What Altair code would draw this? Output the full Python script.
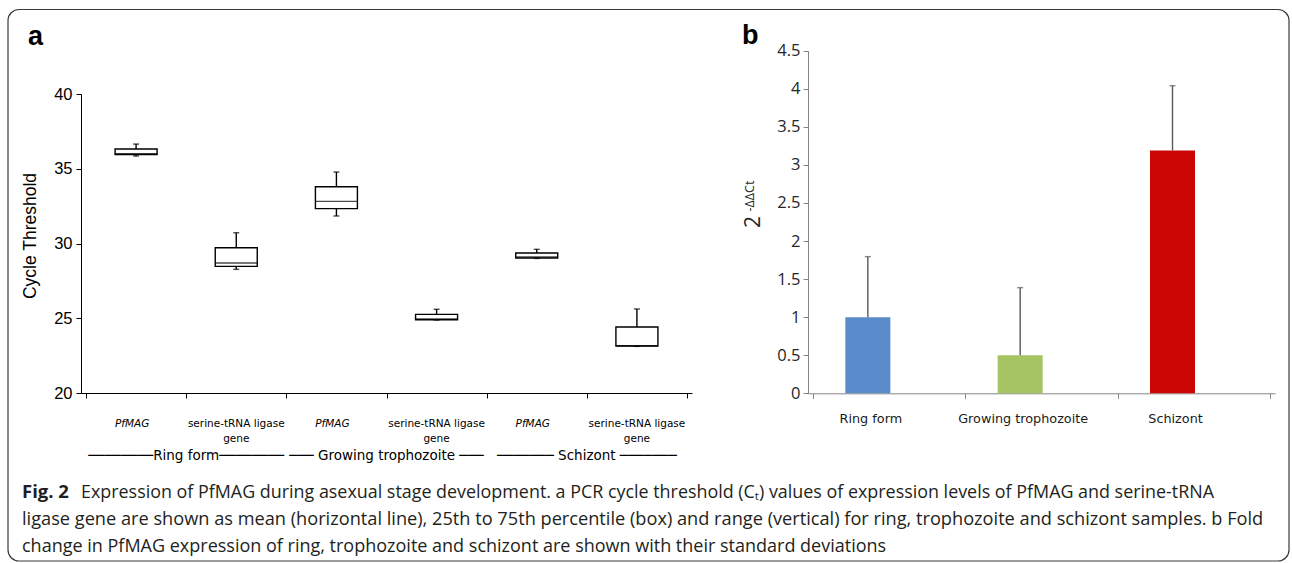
import altair as alt
import pandas as pd

# ---------------- data ----------------
stages = ["Ring form", "Growing trophozoite", "Schizont"]
genes = ["PfMAG", "serine-tRNA ligase\ngene"]

# panel a: cycle threshold box plots (order: ring PfMAG, ring serine, troph PfMAG, troph serine, schizont PfMAG, schizont serine)
ct_min = [35.85, 28.27, 31.84, 24.88, 29.00, 23.12]
ct_q1 = [35.95, 28.47, 32.33, 24.90, 29.03, 23.14]
ct_median = [36.00, 28.70, 32.82, 24.95, 29.10, 23.16]
ct_q3 = [36.32, 29.72, 33.80, 25.26, 29.36, 24.41]
ct_max = [36.65, 30.72, 34.78, 25.60, 29.61, 25.62]
ct_ticks = [20, 25, 30, 35, 40]

# panel b: fold change
fold_mean = [1.0, 0.5, 3.19]
fold_sd = [0.795, 0.888, 0.85]
fold_ticks = [0, 0.5, 1, 1.5, 2, 2.5, 3, 3.5, 4, 4.5]
bar_colors = ["#5A8BCB", "#A5C563", "#CC0505"]

caption_bold = "Fig. 2"
caption_lines = [
    "Expression of PfMAG during asexual stage development. a PCR cycle threshold (C\u209c) values of expression levels of PfMAG and serine-tRNA",
    "ligase gene are shown as mean (horizontal line), 25th to 75th percentile (box) and range (vertical) for ring, trophozoite and schizont samples. b Fold",
    "change in PfMAG expression of ring, trophozoite and schizont are shown with their standard deviations",
]

# ---------------- layout (pixels) ----------------
W, H = 1292, 563
A_L, A_R, A_T, A_B = 81, 692, 94, 393
B_L, B_R, B_T, B_B = 808, 1275, 50.7, 393.3
DASH = "\u2500"
brackets = {
    "Ring form": (DASH * 8, DASH * 8),
    "Growing trophozoite": (DASH * 3 + " ", " " + DASH * 3),
    "Schizont": (DASH * 7 + " ", " " + DASH * 7),
}

# ---------------- panel a ----------------
dfa = pd.DataFrame({
    "idx": list(range(len(ct_min))),
    "stage": [stages[i // 2] for i in range(len(ct_min))],
    "gene": [genes[i % 2] for i in range(len(ct_min))],
    "lo": ct_min, "q1": ct_q1, "med": ct_median, "q3": ct_q3, "hi": ct_max,
})

xa_scale = alt.Scale(domain=[0, 6], range=[A_L, A_R], nice=False, zero=False)
ya_scale = alt.Scale(domain=[20, 40], range=[A_B, A_T], nice=False, zero=False)
xa_axis = alt.Axis(orient="bottom", offset=-(H - A_B), values=list(range(7)), labels=False,
                   title=None, grid=False, tickSize=5, domainColor="black", tickColor="black",
                   domainWidth=1, tickWidth=1)
ya_axis = alt.Axis(orient="left", offset=-A_L, values=ct_ticks, title=None, grid=False,
                   tickSize=5, labelFont="Liberation Sans", labelFontSize=16.5, labelColor="black",
                   labelPadding=4, domainColor="black", tickColor="black")


def XA():
    return alt.X("pos:Q", scale=xa_scale, axis=xa_axis)


def YA(field):
    return alt.Y(f"{field}:Q", scale=ya_scale, axis=ya_axis)


base_a = alt.Chart(dfa).transform_calculate(pos="datum.idx + 0.5")
sw = 1.4
boxes = base_a.mark_bar(size=42, fill="white", stroke="black", strokeWidth=sw).encode(
    x=XA(), y=YA("q1"), y2="q3:Q")
wh_top = base_a.mark_rule(color="black", strokeWidth=sw).encode(x=XA(), y=YA("q3"), y2="hi:Q")
wh_bot = base_a.mark_rule(color="black", strokeWidth=sw).encode(x=XA(), y=YA("lo"), y2="q1:Q")
cap_top = base_a.mark_tick(orient="horizontal", size=6, thickness=sw, color="black").encode(
    x=XA(), y=YA("hi"))
cap_bot = base_a.mark_tick(orient="horizontal", size=6, thickness=sw, color="black").encode(
    x=XA(), y=YA("lo"))
medians = base_a.mark_tick(orient="horizontal", size=42, thickness=sw, color="black").encode(
    x=XA(), y=YA("med"))

gene_it = base_a.transform_filter(alt.datum.gene == genes[0]).mark_text(
    font="DejaVu Sans", fontSize=10.5, fontStyle="italic", baseline="top", color="black",
    lineBreak="\n", lineHeight=15, dx=-4).encode(x=XA(), y=alt.value(419), text="gene:N")
gene_rm = base_a.transform_filter(alt.datum.gene != genes[0]).mark_text(
    font="DejaVu Sans", fontSize=10.5, baseline="top", color="black",
    lineBreak="\n", lineHeight=15).encode(x=XA(), y=alt.value(419), text="gene:N")

dfg = pd.DataFrame({
    "gidx": list(range(len(stages))),
    "label": [brackets[s][0] + s + brackets[s][1] for s in stages],
})
group_lbl = alt.Chart(dfg).transform_calculate(pos="2 * datum.gidx + 1").mark_text(
    font="DejaVu Sans", fontSize=13.5, baseline="middle", color="black").encode(
    x=XA(), y=alt.value(456), text="label:N")

panel_a = alt.layer(boxes, wh_top, wh_bot, cap_top, cap_bot, medians, gene_it, gene_rm, group_lbl)

# ---------------- panel b ----------------
dfb = pd.DataFrame({"idx": list(range(len(stages))), "stage": stages,
                    "mean": fold_mean, "sd": fold_sd})
xb_scale = alt.Scale(domain=[0, 3], range=[B_L, B_R], nice=False, zero=False)
yb_scale = alt.Scale(domain=[0, 4.5], range=[B_B, B_T], nice=False, zero=False)
AX_GREY = "#858585"
xb_axis = alt.Axis(orient="bottom", offset=-(H - B_B), values=[0, 1, 2, 3], labels=False,
                   title=None, grid=False, tickSize=5, domainColor=AX_GREY, tickColor=AX_GREY)
yb_axis = alt.Axis(orient="left", offset=-B_L, values=fold_ticks, title=None, grid=False,
                   tickSize=5, labelFont="Open Sans", labelFontSize=16.5, labelColor="#262626",
                   labelPadding=3, domainColor=AX_GREY, tickColor=AX_GREY,
                   labelExpr="'' + datum.value")


def XB():
    return alt.X("pos:Q", scale=xb_scale, axis=xb_axis)


def YB(field):
    return alt.Y(f"{field}:Q", scale=yb_scale, axis=yb_axis)


base_b = alt.Chart(dfb).transform_calculate(pos="datum.idx + 0.36", top="datum.mean + datum.sd")
bars = base_b.mark_bar(size=45).encode(
    x=XB(), y=YB("mean"), y2=alt.datum(0),
    color=alt.Color("stage:N", scale=alt.Scale(domain=stages, range=bar_colors), legend=None))
err = base_b.mark_rule(color="#595959", strokeWidth=1.4).encode(x=XB(), y=YB("mean"), y2="top:Q")
err_cap = base_b.mark_tick(orient="horizontal", size=6, thickness=1.4, color="#595959").encode(
    x=XB(), y=YB("top"))
b_lbl = base_b.mark_text(font="DejaVu Sans", fontSize=12.8, baseline="middle", color="#1a1a1a",
                         dx=3).encode(x=XB(), y=alt.value(419), text="stage:N")

panel_b = alt.layer(bars, err, err_cap, b_lbl)


# ---------------- annotations ----------------
def txt(text, x, y, size, **kw):
    return alt.Chart(pd.DataFrame({"t": [text]})).mark_text(fontSize=size, **kw).encode(
        x=alt.value(x), y=alt.value(y), text="t:N")


border = alt.Chart(pd.DataFrame({"k": [0]})).mark_rect(
    fillOpacity=0, stroke="#3a3a3a", strokeWidth=1.2, cornerRadius=11).encode(
    x=alt.value(8), x2=alt.value(1289), y=alt.value(9.5), y2=alt.value(561))

CAP = "#231f20"
annots = [
    border,
    txt("a", 28, 45, 27, font="Liberation Sans", fontWeight="bold", align="left", baseline="alphabetic"),
    txt("b", 742, 44, 27, font="Liberation Sans", fontWeight="bold", align="left", baseline="alphabetic"),
    txt("Cycle Threshold", 31, 236, 17.5, font="Liberation Sans", angle=270, align="center",
        baseline="middle", color="black"),
    txt("2", 754, 222, 21, font="Open Sans", angle=270, align="center", baseline="middle", color="#262626"),
    txt("-\u0394\u0394Ct", 750, 196, 12.5, font="Open Sans", angle=270, align="center", baseline="middle",
        color="#262626"),
    txt(caption_bold, 22, 498, 18.5, font="Open Sans", fontWeight="bold", align="left",
        baseline="alphabetic", color=CAP),
    txt(caption_lines[0], 81, 498, 17.9, font="Open Sans", align="left", baseline="alphabetic", color=CAP),
    txt(caption_lines[1], 22, 525, 18.2, font="Open Sans", align="left", baseline="alphabetic", color=CAP),
    txt(caption_lines[2], 22, 552, 18.0, font="Open Sans", align="left", baseline="alphabetic", color=CAP),
]

chart = alt.layer(panel_a, panel_b, *annots).resolve_scale(
    x="independent", y="independent", color="independent").resolve_axis(
    x="independent", y="independent").properties(
    width=W, height=H, autosize=alt.AutoSizeParams(type="none"), padding=0,
    background="white").configure_view(stroke=None)

chart.save("out.html", embed_options={"renderer": "svg", "actions": False})
